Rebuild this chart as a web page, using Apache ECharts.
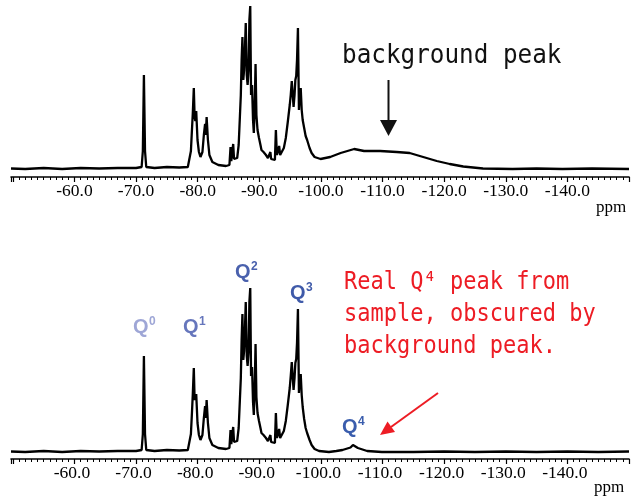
<!DOCTYPE html>
<html>
<head>
<meta charset="utf-8">
<script src="https://cdn.jsdelivr.net/npm/echarts@6/dist/echarts.min.js"></script>
<style>html,body{margin:0;padding:0;background:#fff;}#c{width:632px;height:497px;}</style>
</head>
<body>
<div id="c"></div>
<script>
// ---- data (ppm, intensity) ----
const tickValues = [-140, -130, -120, -110, -100, -90, -80, -70, -60];
const qNames = ['Q', 'Q', 'Q', 'Q', 'Q'];
const qSups = ['0', '1', '2', '3', '4'];

const topSpectrum = [
[-49.7,0.5],[-52,0],[-55,1],[-58,0],[-61,1],[-64,0.5],[-67,1],[-70,1],[-70.9,2],[-71.1,18],[-71.27,94],[-71.45,18],[-71.65,2],[-73,1],[-75,2],[-77,1.5],[-78.4,2],[-78.68,4],[-78.9,18],[-79.05,37],[-79.2,55],[-79.37,81],[-79.5,52],[-79.62,48],[-79.76,58],[-79.97,29],[-80.2,17],[-80.45,12],[-80.77,17],[-81.0,34],[-81.2,45],[-81.32,34],[-81.45,52],[-81.66,29],[-81.9,14],[-82.38,7],[-83.35,4],[-84.6,3],[-85.15,4],[-85.33,22],[-85.45,8],[-85.6,8],[-85.76,25],[-85.9,10],[-86.1,9],[-86.41,11],[-86.65,24],[-86.84,51],[-87.0,74],[-87.13,109],[-87.26,132],[-87.4,89],[-87.53,99],[-87.66,119],[-87.8,146],[-87.96,94],[-88.1,84],[-88.26,99],[-88.39,149],[-88.53,163],[-88.66,74],[-88.82,84],[-88.98,49],[-89.11,36],[-89.24,59],[-89.39,105],[-89.53,54],[-89.71,39],[-89.95,31],[-90.19,24],[-90.35,19],[-90.43,21],[-90.68,17],[-91.08,14],[-91.4,11],[-91.72,10],[-91.8,17],[-91.92,10],[-92.2,8],[-92.53,9],[-92.69,39],[-92.85,14],[-93.09,19],[-93.22,23],[-93.38,14],[-93.65,16],[-93.98,21],[-94.3,31],[-94.62,47],[-94.94,64],[-95.1,74],[-95.27,88],[-95.43,74],[-95.56,62],[-95.72,74],[-95.85,89],[-95.99,93],[-96.12,109],[-96.27,141],[-96.43,59],[-96.55,74],[-96.72,81],[-96.88,59],[-97.04,49],[-97.28,41],[-97.52,33],[-97.76,29],[-98.0,27],[-98.16,21],[-98.49,16],[-98.97,12],[-99.94,10],[-101.5,12],[-103.2,16],[-104.3,18],[-105.4,20],[-107.0,18],[-109.6,18],[-112.3,17],[-114.4,16],[-116.6,12],[-118.8,8],[-120.9,5],[-123.1,2.5],[-126.3,0.5],[-131.1,0],[-135,0.5],[-139.2,0],[-144,0.5],[-150,0]
];

const bottomSpectrum = [
[-49.7,0.5],[-52,0],[-55,1],[-58,0],[-61,1],[-64,0.5],[-67,1],[-70,1],[-70.9,2],[-71.1,18],[-71.27,96],[-71.45,18],[-71.65,2],[-73,1],[-75,2],[-77,1.5],[-78.4,2],[-78.68,4],[-78.9,18],[-79.05,37],[-79.2,57],[-79.37,84],[-79.5,52],[-79.62,50],[-79.76,58],[-79.97,29],[-80.2,17],[-80.45,12],[-80.77,17],[-81.0,34],[-81.2,46],[-81.32,34],[-81.45,52],[-81.66,29],[-81.9,14],[-82.38,7],[-83.35,4],[-84.6,3],[-85.15,4],[-85.33,22],[-85.45,8],[-85.6,8],[-85.76,25],[-85.9,10],[-86.1,9],[-86.41,11],[-86.65,24],[-86.84,51],[-87.0,74],[-87.13,112],[-87.26,138],[-87.4,92],[-87.53,101],[-87.66,121],[-87.8,150],[-87.96,96],[-88.1,86],[-88.26,100],[-88.39,150],[-88.53,164],[-88.66,76],[-88.82,85],[-88.98,50],[-89.11,37],[-89.24,60],[-89.39,108],[-89.53,55],[-89.71,39],[-89.95,31],[-90.19,24],[-90.35,19],[-90.43,21],[-90.68,17],[-91.08,14],[-91.4,11],[-91.72,10],[-91.8,17],[-91.92,10],[-92.2,8],[-92.53,9],[-92.69,39],[-92.85,14],[-93.09,19],[-93.22,23],[-93.38,14],[-93.65,16],[-93.98,21],[-94.3,31],[-94.62,47],[-94.94,64],[-95.1,76],[-95.27,90],[-95.43,74],[-95.56,62],[-95.72,74],[-95.85,89],[-95.99,93],[-96.12,109],[-96.27,143],[-96.43,59],[-96.55,74],[-96.72,78],[-96.88,57],[-97.04,45],[-97.28,33],[-97.52,24],[-97.76,19],[-98.0,20],[-98.16,12],[-98.49,7],[-98.97,3],[-99.7,1],[-101.3,0],[-102.5,1],[-103.5,2],[-104.8,4.5],[-105.2,7],[-106.0,4],[-107.5,1],[-109.9,0],[-115,0],[-120,0.5],[-125,0],[-130,0.5],[-135,0],[-140,0.5],[-145,0],[-150,0.5]
];

// ---- chart ----
const chart = echarts.init(document.getElementById('c'), null, {renderer: 'canvas'});

function xAxisCfg(gridIndex, shiftLeft) {
  return {
    type: 'value', gridIndex: gridIndex, inverse: true,
    min: -150, max: -49.7, interval: 10,
    axisLine: {show: true, onZero: false, lineStyle: {color: '#000', width: 1.6}},
    axisTick: {show: true, length: 5, lineStyle: {color: '#000', width: 1.2}},
    minorTick: {show: true, splitNumber: 10, length: 3, lineStyle: {color: '#000', width: 1}},
    splitLine: {show: false},
    axisLabel: {
      margin: 5, color: '#000', fontFamily: 'Liberation Serif', fontSize: 17.5,
      padding: [0, shiftLeft, 0, 0],
      showMinLabel: true, showMaxLabel: true,
      formatter: function (v) {
        const r = Math.round(v);
        return tickValues.indexOf(r) >= 0 && Math.abs(v - r) < 1e-6 ? r.toFixed(1) : '';
      }
    }
  };
}

const qColors = ['#9ea6d6', '#6676bc', '#4a61ad', '#3f5aa9', '#3a5dad'];
const qPos = [[133, 317], [183, 317], [235, 262], [290, 283], [342, 417]];
const graphics = [];
for (let i = 0; i < qNames.length; i++) {
  graphics.push({type: 'text', x: qPos[i][0], y: qPos[i][1],
    style: {text: qNames[i], fill: qColors[i], font: 'bold 20px "Liberation Sans"', textAlign: 'left', textVerticalAlign: 'top'}});
  graphics.push({type: 'text', x: qPos[i][0] + 16, y: qPos[i][1] - 1,
    style: {text: qSups[i], fill: qColors[i], font: 'bold 12px "Liberation Sans"', textAlign: 'left', textVerticalAlign: 'top'}});
}
// "background peak" annotation (top)
graphics.push({type: 'text', x: 342, y: 42, scaleX: 0.9,
  style: {text: 'background peak', fill: '#111', font: '27px "DejaVu Sans Mono"', textAlign: 'left', textVerticalAlign: 'top'}});
graphics.push({type: 'line', shape: {x1: 388.5, y1: 80, x2: 388.5, y2: 124}, style: {stroke: '#111', lineWidth: 2}});
graphics.push({type: 'polygon', shape: {points: [[380, 120], [397, 120], [388.5, 136]]}, style: {fill: '#111'}});
// red annotation (bottom)
const redLines = ['Real Q⁴ peak from', 'sample, obscured by', 'background peak.'];
redLines.forEach(function (t, i) {
  graphics.push({type: 'text', x: 344, y: 270 + i * 32, scaleX: 0.88,
    style: {text: t, fill: '#ed1c24', font: '25px "DejaVu Sans Mono"', textAlign: 'left', textVerticalAlign: 'top'}});
});
graphics.push({type: 'line', shape: {x1: 438, y1: 393, x2: 391, y2: 427}, style: {stroke: '#ed1c24', lineWidth: 2}});
graphics.push({type: 'polygon', shape: {points: [[380, 435], [395, 432], [387.5, 421.5]]}, style: {fill: '#ed1c24'}});
// axis unit labels
graphics.push({type: 'text', x: 611, y: 208, style: {text: 'ppm', fill: '#000', font: '17px "Liberation Serif"', textAlign: 'center', textVerticalAlign: 'middle'}});
graphics.push({type: 'text', x: 609, y: 488, style: {text: 'ppm', fill: '#000', font: '17px "Liberation Serif"', textAlign: 'center', textVerticalAlign: 'middle'}});

chart.setOption({
  animation: false,
  backgroundColor: '#fff',
  grid: [
    {left: 11, width: 623, top: 0, height: 177, containLabel: false},
    {left: 11, width: 623, top: 280, height: 179, containLabel: false}
  ],
  xAxis: [xAxisCfg(0, 0), xAxisCfg(1, 5)],
  yAxis: [
    {type: 'value', gridIndex: 0, min: -8, max: 169, show: false},
    {type: 'value', gridIndex: 1, min: -7, max: 172, show: false}
  ],
  series: [
    {type: 'line', xAxisIndex: 0, yAxisIndex: 0, data: topSpectrum, showSymbol: false, symbol: 'none',
      lineStyle: {color: '#000', width: 2.3}, clip: false},
    {type: 'line', xAxisIndex: 1, yAxisIndex: 1, data: bottomSpectrum, showSymbol: false, symbol: 'none',
      lineStyle: {color: '#000', width: 2.3}, clip: false}
  ],
  graphic: graphics
});
</script>
</body>
</html>
